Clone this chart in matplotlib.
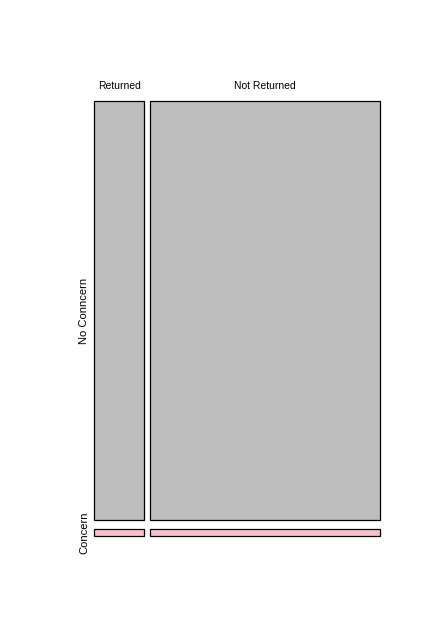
import matplotlib
matplotlib.use("Agg")
import matplotlib.pyplot as plt
from matplotlib.patches import Rectangle
import numpy as np

# Data: counts (columns = return status, rows = concern)
col_labels = ["Returned", "Not Returned"]
row_labels = ["No Conncern", "Concern"]
no_concern = [176, 806]
concern = [3, 13]
row_colors = ["#BEBEBE", "#FFC0CB"]

plt.rcParams['font.family'] = ['Liberation Sans', 'DejaVu Sans']

fig = plt.figure(figsize=(4.37, 6.36), dpi=100)
W, H = 437, 636
ax = fig.add_axes([94 / W, (636 - 536) / H, (380 - 94) / W, (536 - 101) / H])
ax.set_xlim(0, 1)
ax.set_ylim(0, 1)
ax.axis("off")

counts = np.array([no_concern, concern], dtype=float)  # rows x cols
col_tot = counts.sum(axis=0)
gx = 0.019
gy = 0.0207
avail_w = 1 - gx * (len(col_labels) - 1)
x = 0.0
for j, lab in enumerate(col_labels):
    w = avail_w * col_tot[j] / col_tot.sum()
    avail_h = 1 - gy * (len(row_labels) - 1)
    ytop = 1.0
    for i in range(len(row_labels)):
        h = avail_h * counts[i, j] / col_tot[j]
        ax.add_patch(Rectangle((x, ytop - h), w, h, facecolor=row_colors[i],
                               edgecolor="black", linewidth=0.9, clip_on=False))
        ytop -= h + gy
    ax.text(x + w / 2, 1.035, lab, ha="center", va="center", fontsize=7.5)
    x += w + gx

# row labels based on overall row shares
avail_h = 1 - gy
ytop = 1.0
for i, lab in enumerate(row_labels):
    share = counts[i].sum() / counts.sum()
    h = avail_h * share
    ax.text(-0.034, ytop - h / 2, lab, rotation=90, ha="center", va="center",
            fontsize=8)
    ytop -= h + gy

fig.savefig("out.png", dpi=100)
